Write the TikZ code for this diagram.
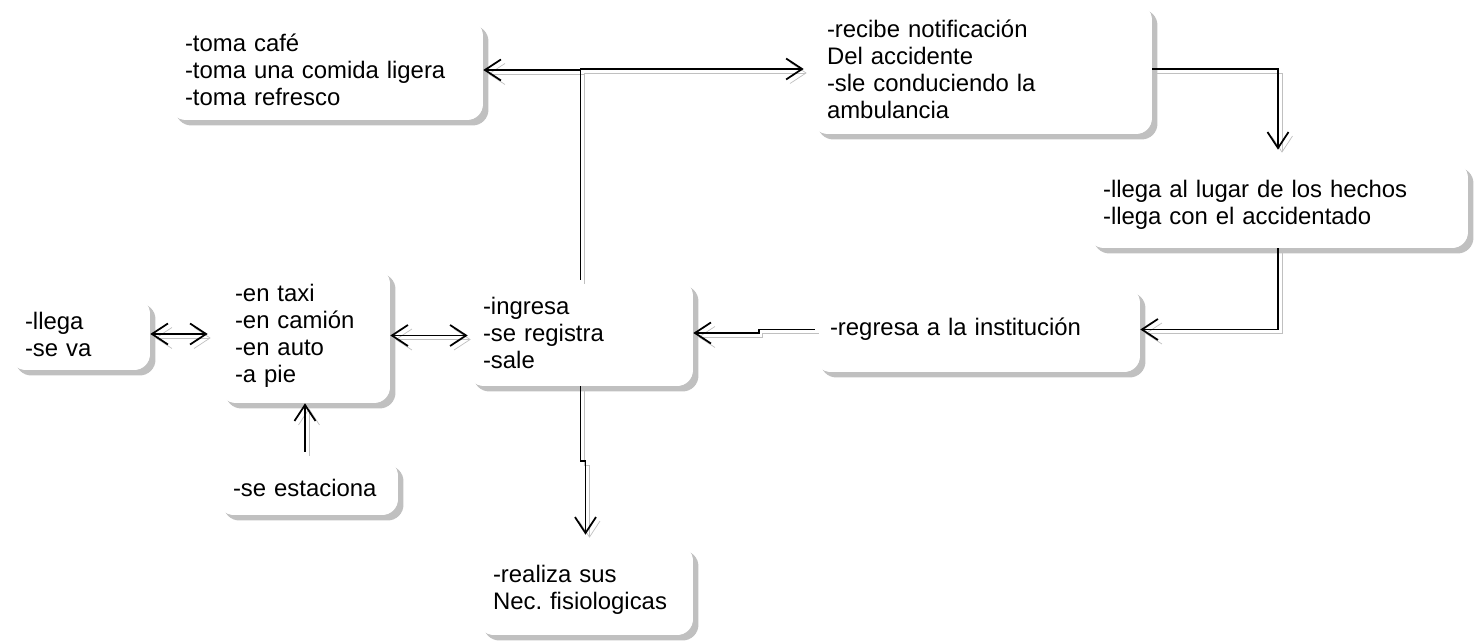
\documentclass[tikz,border=0pt]{standalone}
\usepackage{fontspec}
\setmainfont{Liberation Sans}
\usepackage{tikz}
\usetikzlibrary{positioning, arrows.meta, shadows}
\definecolor{shadowgray}{RGB}{192, 192, 192}
\frenchspacing

\begin{document}
\begin{tikzpicture}[x=0.02cm, y=-0.02cm,
      >={Straight Barb[length=0.32cm, width=0.42cm]},
      actbox/.style={fill=white, text width=#1, align=left, rounded corners=9pt, inner xsep=0.3cm, inner ysep=2pt, font=\fontsize{13.6pt}{15.4pt}\selectfont, drop shadow={shadow xshift=0.11cm, shadow yshift=-0.11cm, fill=shadowgray, opacity=1}},
      actarrow/.style={->, line width=1pt, black, preaction={draw=shadowgray, transform canvas={xshift=0.08cm, yshift=-0.08cm}}}
    ]
      \useasboundingbox (0,0) rectangle (1475,641);

      \node[actbox=5.66cm, minimum height=2.0cm] (cafe) at (326.5,70) {-toma café\\-toma una comida ligera\\-toma refresco};
      \node[actbox=6.2cm, minimum height=2.6cm] (ambu) at (982,69) {-recibe notificación\\Del accidente\\-sle conduciendo la\\ambulancia};
      \node[actbox=7.0cm, minimum height=1.72cm] (hechos) at (1278,205) {-llega al lugar de los hechos\\-llega con el accidentado};
      \node[actbox=5.9cm, minimum height=1.7cm] (regresa) at (977.5,329.5) {-regresa a la institución};
      \node[actbox=3.9cm, minimum height=2.12cm] (ingresa) at (580.5,333) {-ingresa\\-se registra\\-sale};
      \node[actbox=2.8cm, minimum height=2.7cm] (taxi) at (305,335.5) {-en taxi\\-en camión\\-en auto\\-a pie};
      \node[actbox=2.2cm, minimum height=1.44cm] (llega) at (80,334) {-llega\\-se va};
      \node[actbox=3.0cm, minimum height=1.1cm] (estaciona) at (308,487.5) {-se estaciona};
      \node[actbox=3.7cm, minimum height=1.8cm] (fisio) at (585.5,590) {-realiza sus\\Nec. fisiologicas};

      \draw[actarrow] (ingresa.north) |- (cafe.east);
      \draw[actarrow, shorten >=0.16cm] (ingresa.north) |- (ambu.west);
      \draw[actarrow] (ambu.east) -| ([yshift=0.24cm]hechos.north);
      \draw[actarrow] (hechos.south) |- (regresa.east);
      \draw[actarrow] (regresa.west) -- ++(-56,0) |- (ingresa.east);
      \draw[actarrow] (ingresa.south) -- ++(0,75) -| ([yshift=0.2cm]fisio.north);
      \draw[actarrow, <->, shorten >=0.24cm] (llega.east) -- (llega.east -| taxi.west);
      \draw[actarrow, <->] (taxi.east) -- (taxi.east -| ingresa.west);
      \draw[actarrow] ([yshift=0.16cm]estaciona.north -| taxi.south) -- (taxi.south);
    \end{tikzpicture}
\end{document}
